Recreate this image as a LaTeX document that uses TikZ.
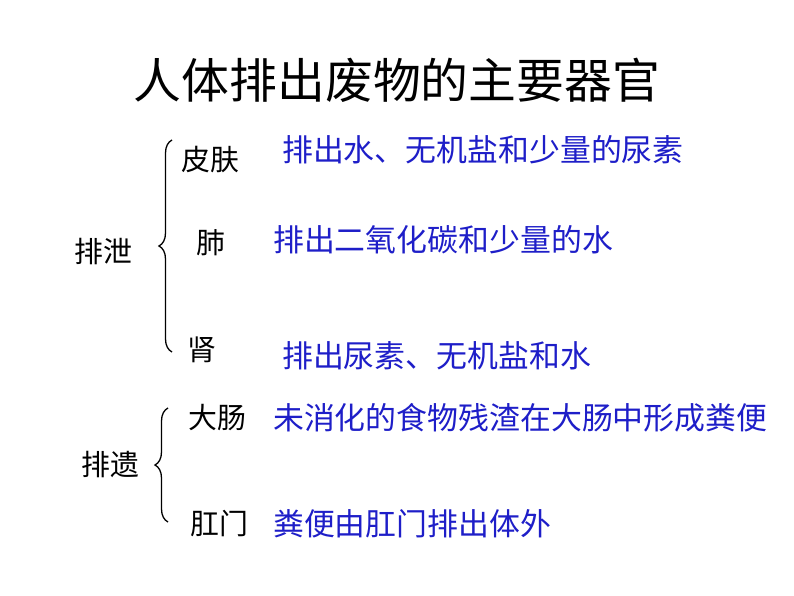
\documentclass[tikz,border=0pt]{standalone}
\usepackage{fontspec}
\setmainfont{Noto Sans CJK SC}
\usetikzlibrary{decorations.pathreplacing}
\begin{document}
\begin{tikzpicture}[x=1bp,y=-1bp,
  lbl/.style={font=\fontsize{29}{32}\selectfont,inner sep=0},
  bl/.style={font=\fontsize{31}{34}\selectfont,text={rgb,255:red,30;green,30;blue,200},anchor=west,inner sep=0},
  br/.style={decorate,decoration={brace,amplitude=13bp},line width=1.3pt}]
\useasboundingbox (0,0) rectangle (794,596);
\node[font=\fontsize{48}{52}\selectfont,inner sep=0] (t) at (397,80) {人体排出废物的主要器官};
\node[lbl] (px) at (103,252) {排泄};
\node[lbl] (pf) at (210,160) {皮肤};
\node[lbl] (fe) at (211,243) {肺};
\node[lbl] (sh) at (202,350) {肾};
\node[bl] (b1) at (282,150) {排出水、无机盐和少量的尿素};
\node[bl] (b2) at (273,240) {排出二氧化碳和少量的水};
\node[bl] (b3) at (282,356) {排出尿素、无机盐和水};
\node[lbl] (py) at (110,465) {排遗};
\node[lbl] (dc) at (217,418) {大肠};
\node[lbl] (gm) at (219,524) {肛门};
\node[bl] (b4) at (273,418) {未消化的食物残渣在大肠中形成粪便};
\node[bl] (b5) at (273,524) {粪便由肛门排出体外};
\coordinate (a1) at (172,140); \coordinate (a2) at (172,352);
\coordinate (c1) at (168,408); \coordinate (c2) at (168,522);
\draw[br] (a2) -- (a1);
\draw[br] (c2) -- (c1);
\end{tikzpicture}
\end{document}
